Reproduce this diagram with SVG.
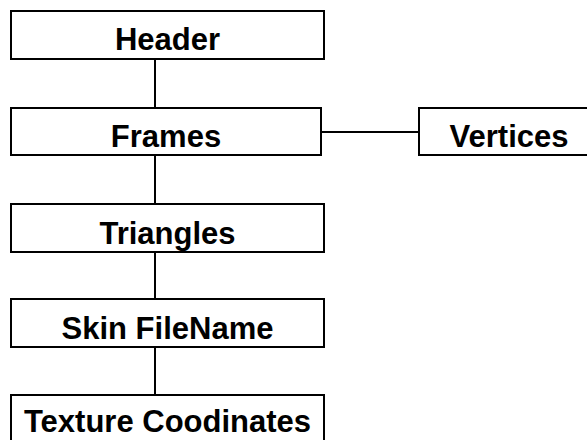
<svg xmlns="http://www.w3.org/2000/svg" width="587" height="440" viewBox="0 0 587 440">
  <style>
    .box { fill: #ffffff; stroke: #000000; stroke-width: 2; }
    .lbl { font-family: "Liberation Sans", Arial, sans-serif; font-weight: bold; font-size: 31px; fill: #000000; text-anchor: middle; }
    .wire { stroke: #000000; stroke-width: 2; fill: none; }
  </style>
  <rect width="587" height="440" fill="#ffffff"/>
  <g id="connectors">
    <line class="wire" x1="155" y1="60" x2="155" y2="107"/>
    <line class="wire" x1="155" y1="155" x2="155" y2="204"/>
    <line class="wire" x1="155" y1="252" x2="155" y2="299"/>
    <line class="wire" x1="155" y1="347" x2="155" y2="395"/>
    <line class="wire" x1="322" y1="132" x2="419" y2="132"/>
  </g>
  <g id="header">
    <rect class="box" x="11" y="11" width="313" height="48"/>
    <text class="lbl" x="167.5" y="50">Header</text>
  </g>
  <g id="frames">
    <rect class="box" x="11" y="108" width="310" height="47"/>
    <text class="lbl" x="166" y="147">Frames</text>
  </g>
  <g id="vertices">
    <rect class="box" x="419" y="108" width="180" height="47"/>
    <text class="lbl" x="509" y="147">Vertices</text>
  </g>
  <g id="triangles">
    <rect class="box" x="11" y="204" width="313" height="48"/>
    <text class="lbl" x="167.5" y="244">Triangles</text>
  </g>
  <g id="skin-filename">
    <rect class="box" x="11" y="299" width="313" height="48"/>
    <text class="lbl" x="167.5" y="339">Skin FileName</text>
  </g>
  <g id="texture-coordinates">
    <rect class="box" x="11" y="395" width="313" height="60"/>
    <text class="lbl" x="167.5" y="432">Texture Coodinates</text>
  </g>
</svg>
